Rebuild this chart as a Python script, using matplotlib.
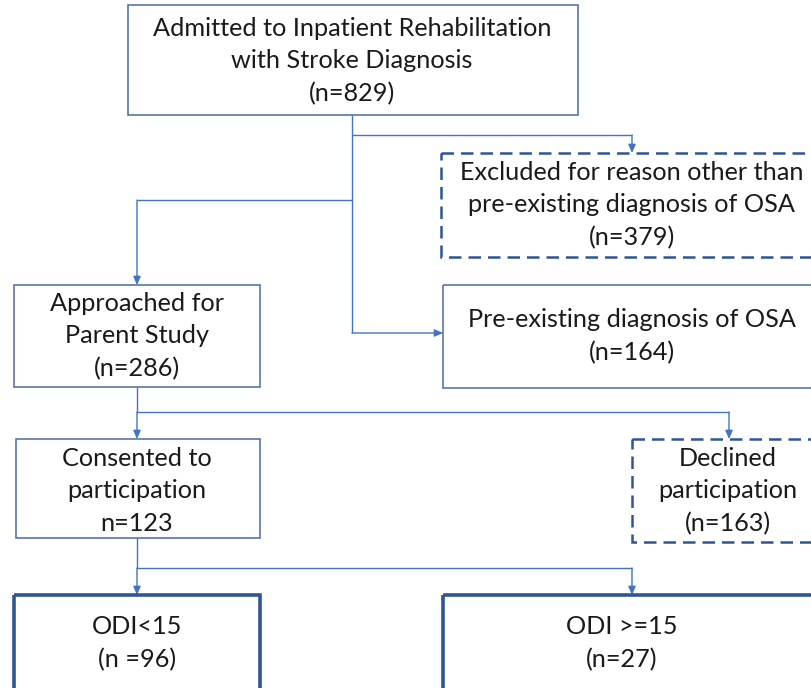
import matplotlib.pyplot as plt
from matplotlib.patches import Rectangle

# box texts
labels = [
    "Admitted to Inpatient Rehabilitation\nwith Stroke Diagnosis\n(n=829)",
    "Excluded for reason other than\npre-existing diagnosis of OSA\n(n=379)",
    "Approached for\nParent Study\n(n=286)",
    "Pre-existing diagnosis of OSA\n(n=164)",
    "Consented to\nparticipation\nn=123",
    "Declined\nparticipation\n(n=163)",
    "ODI<15\n(n =96)",
    "ODI >=15\n(n=27)",
]
styles = ["solid", "dashed", "solid", "solid", "solid", "dashed", "thick", "thick"]

# layout in pixels: x0, y0, x1, y1 (y down), and text centre
boxes = [
    (128, 5, 578, 115),
    (441, 153, 815, 257),
    (14, 285, 260, 387),
    (443, 285, 815, 388),
    (16, 439, 260, 538),
    (632, 439, 815, 542),
    (14, 595, 260, 692),
    (443, 595, 815, 692),
]
centres = [(352, 61), (632, 205), (137, 336), (632, 336),
           (137, 491), (728, 491), (137, 643), (622, 643)]

fig = plt.figure(figsize=(8.12, 6.88), dpi=100)
ax = fig.add_axes([0, 0, 1, 1])
ax.set_xlim(0, 812)
ax.set_ylim(688, 0)
ax.axis("off")

line_c = "#4472c4"
for (x0, y0, x1, y1), (cx, cy), txt, st in zip(boxes, centres, labels, styles):
    if st == "solid":
        ec, lw, ls = "#4a69a3", 1.1, "-"
    elif st == "dashed":
        ec, lw, ls = "#2f5597", 1.8, (0, (5, 2.8))
    else:
        ec, lw, ls = "#2f5597", 2.6, "-"
    ax.add_patch(Rectangle((x0, y0), x1 - x0, y1 - y0, fill=False,
                           edgecolor=ec, linewidth=lw, linestyle=ls, zorder=2))
    ax.text(cx, cy, txt, ha="center", va="center", fontsize=18.2,
            family="Lato", color="#1a1a1a", linespacing=1.5, zorder=3)


def seg(pts):
    xs, ys = zip(*pts)
    ax.plot(xs, ys, color=line_c, lw=1.0, solid_capstyle="butt", zorder=1)


def arrow(p0, p1):
    ax.annotate("", xy=p1, xytext=p0,
                arrowprops=dict(arrowstyle="-|>,head_length=0.5,head_width=0.22",
                                color=line_c, lw=1.0, shrinkA=0, shrinkB=0),
                zorder=1)


# from top box
seg([(352, 115), (352, 333)])
seg([(352, 135), (632, 135)])
arrow((632, 135), (632, 153))
seg([(352, 200), (137, 200)])
arrow((137, 200), (137, 285))
arrow((352, 333), (443, 333))
# from approached
seg([(137, 387), (137, 412), (729, 412)])
arrow((137, 412), (137, 439))
arrow((729, 412), (729, 439))
# from consented
seg([(137, 538), (137, 568), (632, 568)])
arrow((137, 568), (137, 595))
arrow((632, 568), (632, 595))

fig.savefig("out.png", dpi=100)
